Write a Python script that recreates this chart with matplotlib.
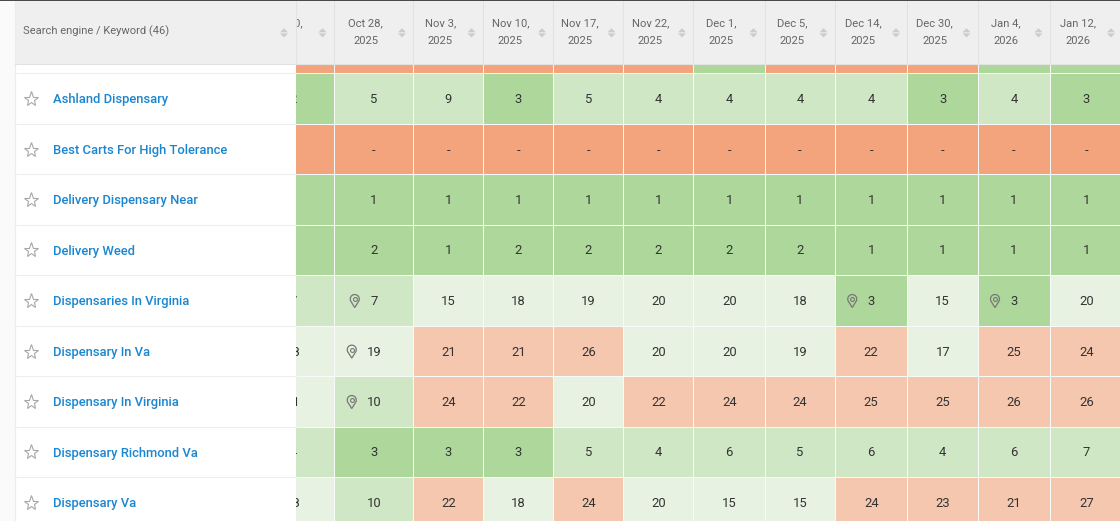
import numpy as np
import matplotlib
matplotlib.use('Agg')
import matplotlib.pyplot as plt
from matplotlib.colors import ListedColormap, BoundaryNorm
from matplotlib.path import Path
from matplotlib.patches import Rectangle, PathPatch, Polygon

plt.rcParams['font.family'] = ['Roboto', 'DejaVu Sans']

nan = float('nan')

# table contents
dates = ['Oct 20,\n2025', 'Oct 28,\n2025', 'Nov 3,\n2025', 'Nov 10,\n2025', 'Nov 17,\n2025', 'Nov 22,\n2025',
         'Dec 1,\n2025', 'Dec 5,\n2025', 'Dec 14,\n2025', 'Dec 30,\n2025', 'Jan 4,\n2026', 'Jan 12,\n2026']
keywords = ['Ashland Dispensary', 'Best Carts For High Tolerance', 'Delivery Dispensary Near', 'Delivery Weed',
            'Dispensaries In Virginia', 'Dispensary In Va', 'Dispensary In Virginia', 'Dispensary Richmond Va',
            'Dispensary Va']
scrolled_row = [nan, nan, nan, nan, nan, nan, 3, nan, nan, nan, 3, 3]
ashland = [2, 5, 9, 3, 5, 4, 4, 4, 4, 3, 4, 3]
best_carts = [nan] * 12
delivery_near = [1, 1, 1, 1, 1, 1, 1, 1, 1, 1, 1, 1]
delivery_weed = [1, 2, 1, 2, 2, 2, 2, 2, 1, 1, 1, 1]
dispensaries_virginia = [7, 7, 15, 18, 19, 20, 20, 18, 3, 15, 3, 20]
dispensary_in_va = [18, 19, 21, 21, 26, 20, 20, 19, 22, 17, 25, 24]
dispensary_in_virginia = [11, 10, 24, 22, 20, 22, 24, 24, 25, 25, 26, 26]
dispensary_richmond = [4, 3, 3, 3, 5, 4, 6, 5, 6, 4, 6, 7]
dispensary_va = [18, 10, 22, 18, 24, 20, 15, 15, 24, 23, 21, 27]
# (keyword row, date column) cells with a location pin
pin_cells = [(4, 1), (4, 8), (4, 10), (5, 1), (6, 1)]

# page layout in pixels
col_edges = [252.5, 333.5, 413, 482.5, 553, 622.5, 693, 764.5, 834.5, 907, 977.5, 1049.5, 1122]
row_edges = [64, 73, 123.8, 174.3, 224.8, 275.1, 326, 376.3, 426.8, 477, 527.5]
panel_left = 15
panel_right = 295.5

rows = [ashland, best_carts, delivery_near, delivery_weed, dispensaries_virginia, dispensary_in_va,
        dispensary_in_virginia, dispensary_richmond, dispensary_va]
values = np.array([scrolled_row] + rows, dtype=float)


def sort_icon(x):
    # two small grey triangles
    ax.add_patch(Polygon([(x - 4, 32.3), (x + 4, 32.3), (x, 28.2)], fc='#cccccc', ec='none', zorder=4))
    ax.add_patch(Polygon([(x - 4, 33.4), (x + 4, 33.4), (x, 37.5)], fc='#cccccc', ec='none', zorder=4))


def pin_icon(x, y):
    arc = Path.arc(150, 390)
    verts = np.vstack([arc.vertices * 4.5 + [x, y - 2], [x, y + 6.5], [x, y + 6.5]])
    codes = list(arc.codes) + [Path.LINETO, Path.CLOSEPOLY]
    ax.add_patch(PathPatch(Path(verts, codes), fc='none', ec='#777777', lw=0.9, zorder=2))
    ax.plot(x, y - 2, 'o', ms=2.8, mfc='none', mec='#777777', mew=0.8, zorder=2)


fig = plt.figure(figsize=(11.2, 5.21), dpi=100, facecolor='#fafafa')
ax = fig.add_axes([0, 0, 1, 1])
ax.set_xlim(0, 1120)
ax.set_ylim(521, 0)
ax.axis('off')

# heatmap: position buckets 1-3, 4-10, 11-20, 21+ and no rank
cmap = ListedColormap(['#aed89b', '#cfe7c4', '#e8f2e3', '#f6c7af'])
cmap.set_bad('#f4a47c')
norm = BoundaryNorm([0.5, 3.5, 10.5, 20.5, 101], cmap.N)
ax.pcolormesh(col_edges, row_edges, np.ma.masked_invalid(values), cmap=cmap, norm=norm,
              edgecolors='#f8faf7', linewidth=0.6, zorder=1)

# cell numbers
for r, row in enumerate(rows):
    y = (row_edges[r + 1] + row_edges[r + 2]) / 2
    for c, val in enumerate(row):
        x = (col_edges[c] + col_edges[c + 1]) / 2 + 0.5
        if c == 0:
            x = 293.5
        txt = '-' if np.isnan(val) else str(int(val))
        ax.text(x, y + 1, txt, ha='center', va='center', fontsize=9.4, color='#333333', zorder=2)

for r, c in pin_cells:
    y = (row_edges[r + 1] + row_edges[r + 2]) / 2 + 0.5
    cx = (col_edges[c] + col_edges[c + 1]) / 2 + 0.5
    pin_icon(cx - (22 if rows[r][c] >= 10 else 19), y)

# header band
ax.add_patch(Rectangle((panel_left, 1), 1120, row_edges[0] - 1, fc='#efefef', ec='none', zorder=2.5))
ax.plot([panel_left, 1120], [row_edges[0], row_edges[0]], color='#e2e2e2', lw=0.8, zorder=2.6)
for c, label in enumerate(dates):
    right = col_edges[c + 1]
    mid = (col_edges[c] + col_edges[c + 1]) / 2
    ax.text(mid - 7.5, 31.8, label, ha='center', va='center', fontsize=8.1, color='#666666',
            linespacing=1.95, zorder=2.7)
    ax.plot([right, right], [1, row_edges[0]], color='#e2e2e2', lw=0.8, zorder=2.6)
    sort_icon(right - 11)

# frozen keyword column on top of the scrolled cells
ax.add_patch(Rectangle((panel_left, row_edges[0]), panel_right - panel_left, 521 - row_edges[0], fc='white',
                       ec='none', zorder=3))
ax.add_patch(Rectangle((panel_left, 1), panel_right - panel_left, row_edges[0] - 1, fc='#efefef', ec='none', zorder=3))
ax.plot([panel_left, panel_left], [1, 521], color='#ececec', lw=0.8, zorder=3.5)
ax.plot([panel_right, panel_right], [1, row_edges[0]], color='#e2e2e2', lw=0.8, zorder=3.5)
ax.plot([panel_left, panel_right], [row_edges[0], row_edges[0]], color='#e2e2e2', lw=0.8, zorder=3.5)
ax.text(23, 31, 'Search engine / Keyword (46)', ha='left', va='center', fontsize=8.0, color='#666666', zorder=4)
sort_icon(284)

for edge in row_edges[1:-1]:
    ax.plot([panel_left, panel_right], [edge, edge], color='#eeeeee', lw=0.8, zorder=3.5)
for r, name in enumerate(keywords):
    y = (row_edges[r + 1] + row_edges[r + 2]) / 2
    ax.plot(31, y + 0.5, '*', ms=11, mfc='white', mec='#a8a8a8', mew=0.8, zorder=4)
    ax.text(53, y + 1.1, name, ha='left', va='center', fontsize=9.37, fontweight='medium', color='#1a86d0', zorder=4)

# dark line at the top of the page
ax.add_patch(Rectangle((0, 0), 1120, 1.3, fc='#4a4a4a', ec='none', zorder=5))

fig.savefig('out.png', dpi=100, facecolor=fig.get_facecolor())
